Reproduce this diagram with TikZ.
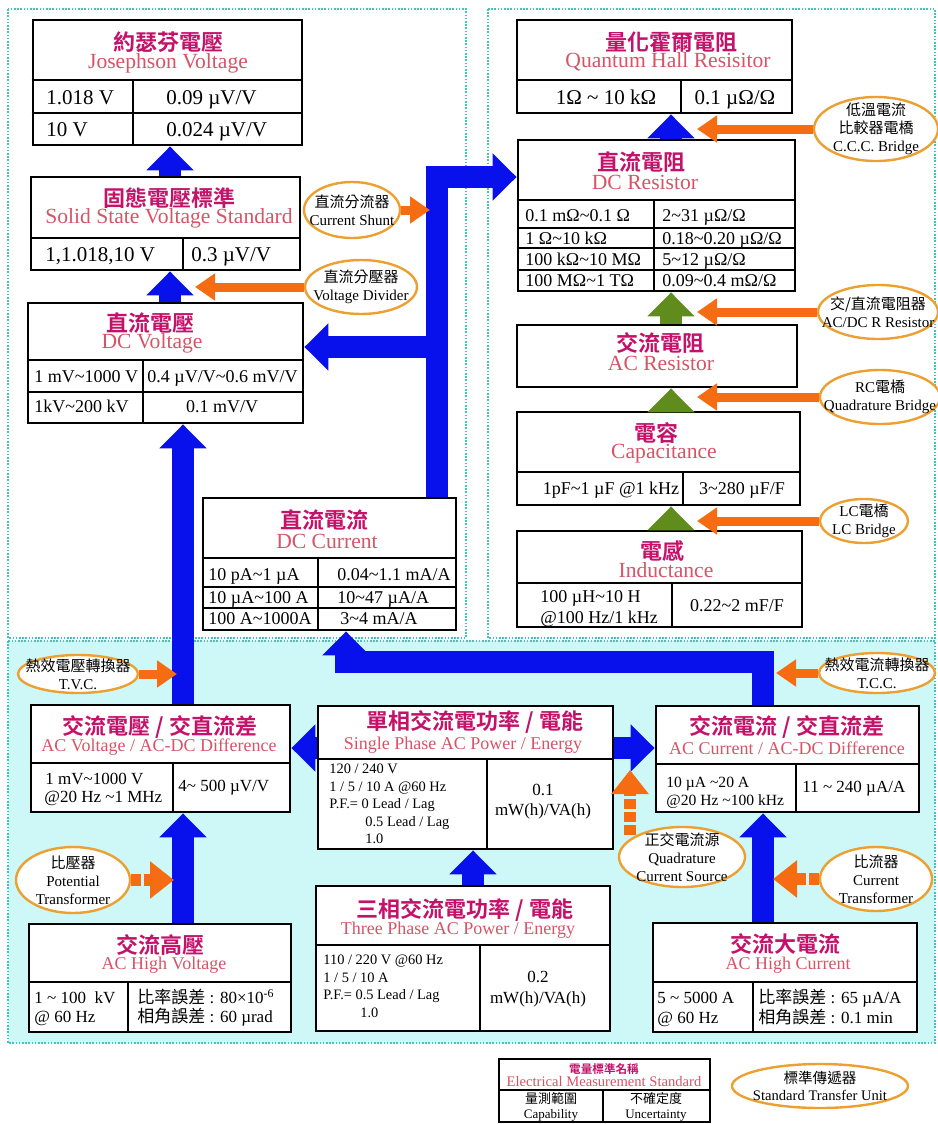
\documentclass[tikz,border=0pt]{standalone}
\usepackage{fontspec}
\setmainfont{Liberation Serif}
\newfontfamily\zhfont{Noto Sans CJK TC}
\newfontfamily\zhbfont{Noto Sans CJK TC Bold}
\usetikzlibrary{arrows.meta, shapes.geometric, fit}
\definecolor{zhred}{RGB}{196,18,106}
\definecolor{enred}{RGB}{214,84,104}
\definecolor{arrblue}{RGB}{8,16,235}
\definecolor{arrgreen}{RGB}{96,140,30}
\definecolor{arrorange}{RGB}{245,108,18}
\definecolor{ellorange}{RGB}{236,160,50}
\definecolor{zonecyan}{RGB}{206,248,248}
\definecolor{zoneline}{RGB}{64,196,188}
\newcommand{\zh}[1]{{\zhfont #1}}
\newcommand{\til}{\textasciitilde}

\begin{document}
\begin{tikzpicture}[x=0.5pt, y=-0.5pt,
    stdbox/.style={draw, line width=1.4pt, fill=white, inner sep=0pt},
    seprule/.style={line width=1.4pt},
    rowrule/.style={line width=0.8pt},
    zhtitle/.style={font=\zhbfont\fontsize{11}{13}\selectfont, text=zhred, inner sep=0pt},
    entitle/.style={font=\fontsize{10.8}{12}\selectfont, text=enred, inner sep=0pt},
    smallen/.style={entitle, font=\fontsize{9}{11}\selectfont},
    celltxt/.style={font=\fontsize{9}{11}\selectfont, inner sep=0pt, anchor=west, text height=6pt, text depth=0pt},
    bigcell/.style={celltxt, font=\fontsize{10.5}{12}\selectfont, text height=7pt},
    accell/.style={celltxt, font=\fontsize{8.5}{10}\selectfont, text height=5.6pt},
    powcell/.style={celltxt, font=\fontsize{7.2}{9}\selectfont, text height=4.8pt},
    stu/.style={ellipse, draw=ellorange, line width=1.2pt, fill=white, inner sep=0pt},
    stutxt/.style={font=\fontsize{7.5}{9}\selectfont, align=center, inner sep=0pt},
    zone/.style={draw=zoneline, line width=1pt, dash pattern=on 0.8pt off 0.8pt},
    bluearr/.style={draw=arrblue, line width=11pt, -{Triangle[width=23pt, length=12pt]}},
    greenarr/.style={bluearr, draw=arrgreen},
    orgarr/.style={draw=arrorange, line width=4.5pt, -{Triangle[width=13pt, length=10pt]}},
    orgdash/.style={draw=arrorange, line width=6pt, dash pattern=on 5pt off 1.5pt, -{Triangle[width=18pt, length=12pt]}}]

    \useasboundingbox (0,0) rectangle (937,1124);
    \draw[zone] (8,9) rectangle (466,638);
    \draw[zone] (488,9) rectangle (935,638);
    \draw[zone, fill=zonecyan] (8,641) rectangle (935,1043);

    \node[stdbox, fit={(33,20) (302,145)}] (jv) {};
    \draw[seprule] (jv.west |- 0,80) -- (jv.east |- 0,80);
    \draw[rowrule] (jv.west |- 0,113) -- (jv.east |- 0,113);
    \draw[rowrule] (133,80) -- (133,0 |- jv.south);
    \node[zhtitle] (jvzh) at (168,42) {約瑟芬電壓};
    \node[entitle] (jven) at (168,63) {Josephson Voltage};
    \node[bigcell] (jva1) at (46,97) {1.018 V};
    \node[bigcell] (jvb1) at (166,97) {0.09 µV/V};
    \node[bigcell] (jva2) at (46,129) {10 V};
    \node[bigcell] (jvb2) at (166,129) {0.024 µV/V};

    \node[stdbox, fit={(31,177) (300,270)}] (sv) {};
    \draw[seprule] (sv.west |- 0,238) -- (sv.east |- 0,238);
    \draw[rowrule] (183,238) -- (183,0 |- sv.south);
    \node[zhtitle] (svzh) at (169,198) {固態電壓標準};
    \node[entitle] (sven) at (169,218) {Solid State Voltage Standard};
    \node[bigcell] (sva1) at (45,254) {1,1.018,10 V};
    \node[bigcell] (svb1) at (191,254) {0.3 µV/V};

    \node[stdbox, fit={(28,303) (303,423)}] (dv) {};
    \draw[seprule] (dv.west |- 0,360) -- (dv.east |- 0,360);
    \draw[rowrule] (dv.west |- 0,392) -- (dv.east |- 0,392);
    \draw[rowrule] (143,360) -- (143,0 |- dv.south);
    \node[zhtitle] (dvzh) at (150,323) {直流電壓};
    \node[entitle] (dven) at (152,343) {DC Voltage};
    \node[celltxt] (dva1) at (34,376) {1 mV\til1000 V};
    \node[celltxt] (dvb1) at (147,376) {0.4 µV/V\til0.6 mV/V};
    \node[celltxt] (dva2) at (34,406) {1kV\til200 kV};
    \node[celltxt, anchor=center] (dvb2) at (222,406) {0.1 mV/V};

    \node[stdbox, fit={(203,498) (456,630)}] (di) {};
    \draw[seprule] (di.west |- 0,558) -- (di.east |- 0,558);
    \draw[rowrule] (di.west |- 0,587) -- (di.east |- 0,587);
    \draw[rowrule] (di.west |- 0,608) -- (di.east |- 0,608);
    \draw[rowrule] (318,558) -- (318,0 |- di.south);
    \node[zhtitle] (dizh) at (324,520) {直流電流};
    \node[entitle] (dien) at (327,541) {DC Current};
    \node[celltxt] (dia1) at (208,574) {10 pA\til1 µA};
    \node[celltxt] (dib1) at (337,574) {0.04\til1.1 mA/A};
    \node[celltxt] (dia2) at (208,597) {10 µA\til100 A};
    \node[celltxt] (dib2) at (337,597) {10\til47 µA/A};
    \node[celltxt] (dia3) at (208,618) {100 A\til1000A};
    \node[celltxt] (dib3) at (340,618) {3\til4 mA/A};

    \node[stdbox, fit={(517,20) (792,113)}] (qhr) {};
    \draw[seprule] (qhr.west |- 0,80) -- (qhr.east |- 0,80);
    \draw[rowrule] (681,80) -- (681,0 |- qhr.south);
    \node[zhtitle] (qhrzh) at (671,42) {量化霍爾電阻};
    \node[entitle] (qhren) at (668,62) {Quantum Hall Resisitor};
    \node[bigcell, anchor=center] (qhra1) at (606,97) {1Ω \til{} 10 kΩ};
    \node[bigcell, anchor=center] (qhrb1) at (735,97) {0.1 µΩ/Ω};

    \node[stdbox, fit={(518,140) (795,291)}] (dr) {};
    \draw[seprule] (dr.west |- 0,200) -- (dr.east |- 0,200);
    \draw[rowrule] (dr.west |- 0,228) -- (dr.east |- 0,228);
    \draw[rowrule] (dr.west |- 0,248) -- (dr.east |- 0,248);
    \draw[rowrule] (dr.west |- 0,270) -- (dr.east |- 0,270);
    \draw[rowrule] (654,200) -- (654,0 |- dr.south);
    \node[zhtitle] (drzh) at (641,162) {直流電阻};
    \node[entitle] (dren) at (645,182) {DC Resistor};
    \node[celltxt] (dra1) at (525,215) {0.1 mΩ\til0.1 Ω};
    \node[celltxt] (drb1) at (662,215) {2\til31 µΩ/Ω};
    \node[celltxt] (dra2) at (525,238) {1 Ω\til10 kΩ};
    \node[celltxt] (drb2) at (662,238) {0.18\til0.20 µΩ/Ω};
    \node[celltxt] (dra3) at (525,259) {100 kΩ\til10 MΩ};
    \node[celltxt] (drb3) at (662,259) {5\til12 µΩ/Ω};
    \node[celltxt] (dra4) at (525,280) {100 MΩ\til1 TΩ};
    \node[celltxt] (drb4) at (662,280) {0.09\til0.4 mΩ/Ω};

    \node[stdbox, fit={(517,325) (797,387)}] (ar) {};
    \node[zhtitle] (arzh) at (660,343) {交流電阻};
    \node[entitle] (aren) at (661,363) {AC Resistor};

    \node[stdbox, fit={(517,412) (800,505)}] (cap) {};
    \draw[seprule] (cap.west |- 0,472) -- (cap.east |- 0,472);
    \draw[rowrule] (683,472) -- (683,0 |- cap.south);
    \node[zhtitle] (capzh) at (656,433) {電容};
    \node[entitle] (capen) at (664,454) {Capacitance};
    \node[celltxt, anchor=center] (capa1) at (611,488) {1pF\til1 µF @1 kHz};
    \node[celltxt, anchor=center] (capb1) at (742,488) {3\til280 µF/F};

    \node[stdbox, fit={(517,531) (802,627)}] (ind) {};
    \draw[seprule] (ind.west |- 0,583) -- (ind.east |- 0,583);
    \draw[rowrule] (672,583) -- (672,0 |- ind.south);
    \node[zhtitle] (indzh) at (662,551) {電感};
    \node[entitle] (inden) at (666,570) {Inductance};
    \node[celltxt] (inda1) at (540,596) {100 µH\til10 H};
    \node[celltxt] (inda2) at (540,617) {@100 Hz/1 kHz};
    \node[celltxt, anchor=center] (indb1) at (737,605) {0.22\til2 mF/F};

    \node[stdbox, fit={(31,705) (290,812)}] (acv) {};
    \draw[seprule] (acv.west |- 0,763) -- (acv.east |- 0,763);
    \draw[rowrule] (173,763) -- (173,0 |- acv.south);
    \node[zhtitle] (acvzh) at (160,727) {交流電壓 / 交直流差};
    \node[smallen] (acven) at (159,747) {AC Voltage / AC-DC Difference};
    \node[accell] (acva1) at (45,779) {1 mV\til1000 V};
    \node[accell] (acva2) at (44,797) {@20 Hz \til1 MHz};
    \node[accell] (acvb1) at (178,786) {4\til{} 500 µV/V};

    \node[stdbox, fit={(318,706) (613,849)}] (sp) {};
    \draw[seprule] (sp.west |- 0,759) -- (sp.east |- 0,759);
    \draw[rowrule] (487,759) -- (487,0 |- sp.south);
    \node[zhtitle] (spzh) at (475,722) {單相交流電功率 / 電能};
    \node[smallen] (spen) at (463,745) {Single Phase AC Power / Energy};
    \node[powcell] (spa1) at (329,769) {120 / 240 V};
    \node[powcell] (spa2) at (329,787) {1 / 5 / 10 A @60 Hz};
    \node[powcell] (spa3) at (329,804) {P.F.= 0 Lead / Lag};
    \node[powcell] (spa4) at (365,822) {0.5 Lead / Lag};
    \node[powcell] (spa5) at (365,839) {1.0};
    \node[accell, anchor=center] (spb1) at (543,790) {0.1};
    \node[accell, anchor=center] (spb2) at (543,810) {mW(h)/VA(h)};

    \node[stdbox, fit={(656,706) (919,812)}] (aci) {};
    \draw[seprule] (aci.west |- 0,764) -- (aci.east |- 0,764);
    \draw[rowrule] (796,764) -- (796,0 |- aci.south);
    \node[zhtitle] (acizh) at (787,727) {交流電流 / 交直流差};
    \node[smallen] (acien) at (787,748) {AC Current / AC-DC Difference};
    \node[accell, font=\fontsize{7.8}{9}\selectfont] (acia1) at (666,782) {10 µA \til20 A};
    \node[accell, font=\fontsize{7.8}{9}\selectfont] (acia2) at (666,800) {@20 Hz \til100 kHz};
    \node[accell] (acib1) at (802,787) {11 \til{} 240 µA/A};

    \node[stdbox, fit={(29,924) (291,1032)}] (achv) {};
    \draw[seprule] (achv.west |- 0,982) -- (achv.east |- 0,982);
    \draw[rowrule] (128,982) -- (128,0 |- achv.south);
    \node[zhtitle] (achvzh) at (160,945) {交流高壓};
    \node[smallen] (achven) at (164,965) {AC High Voltage};
    \node[accell] (achva1) at (34,998) {1 \til{} 100\ \ kV};
    \node[accell] (achva2) at (34,1017) {@ 60 Hz};
    \node[accell] (achvb1) at (137,998) {\zh{比率誤差} : 80×10\textsuperscript{-6}};
    \node[accell] (achvb2) at (137,1017) {\zh{相角誤差} : 60 µrad};

    \node[stdbox, fit={(316,886) (610,1031)}] (tp) {};
    \draw[seprule] (tp.west |- 0,945) -- (tp.east |- 0,945);
    \draw[rowrule] (480,945) -- (480,0 |- tp.south);
    \node[zhtitle] (tpzh) at (465,910) {三相交流電功率 / 電能};
    \node[smallen] (tpen) at (458,930) {Three Phase AC Power / Energy};
    \node[powcell] (tpa1) at (323,960) {110 / 220 V @60 Hz};
    \node[powcell] (tpa2) at (323,978) {1 / 5 / 10 A};
    \node[powcell] (tpa3) at (323,995) {P.F.= 0.5 Lead / Lag};
    \node[powcell] (tpa4) at (360,1013) {1.0};
    \node[accell, anchor=center] (tpb1) at (538,977) {0.2};
    \node[accell, anchor=center] (tpb2) at (538,998) {mW(h)/VA(h)};

    \node[stdbox, fit={(653,923) (917,1032)}] (achi) {};
    \draw[seprule] (achi.west |- 0,982) -- (achi.east |- 0,982);
    \draw[rowrule] (753,982) -- (753,0 |- achi.south);
    \node[zhtitle] (achizh) at (785,944) {交流大電流};
    \node[smallen] (achien) at (788,965) {AC High Current};
    \node[accell] (achia1) at (657,998) {5 \til{} 5000 A};
    \node[accell] (achia2) at (657,1018) {@ 60 Hz};
    \node[accell] (achib1) at (758,998) {\zh{比率誤差} : 65 µA/A};
    \node[accell] (achib2) at (758,1018) {\zh{相角誤差} : 0.1 min};

    \node[stdbox, line width=1pt, fit={(499,1059) (710,1122)}] (leg) {};
    \draw[seprule] (leg.west |- 0,1090) -- (leg.east |- 0,1090);
    \draw[rowrule] (603,1090) -- (603,0 |- leg.south);
    \node[zhtitle, font=\zhbfont\fontsize{5.8}{7}\selectfont] (legzh) at (604,1069) {電量標準名稱};
    \node[entitle, font=\fontsize{7.3}{8}\selectfont] (legen) at (604,1081) {Electrical Measurement Standard};
    \node[stutxt, font=\fontsize{6.5}{7.2}\selectfont] (lega) at (551,1107) {\zh{量測範圍}\\Capability};
    \node[stutxt, font=\fontsize{6.5}{7.2}\selectfont] (legb) at (656,1107) {\zh{不確定度}\\Uncertainty};

    \draw[bluearr] (170,0 |- sv.north) -- (170,0 |- jv.south);
    \draw[bluearr] (170,0 |- dv.north) -- (170,0 |- sv.south);
    \draw[bluearr] (183,0 |- acv.north) -- (183,0 |- dv.south);
    \draw[bluearr] (183,0 |- achv.north) -- (183,0 |- acv.south);
    \draw[bluearr] (437,0 |- di.north) -- (437,177) -- (dr.west |- 0,177);
    \draw[bluearr] (437,347) -- (dv.east |- 0,347);
    \draw[bluearr] (763,0 |- aci.north) -- (763,662) -- (346,662) -- (346,0 |- di.south);
    \draw[bluearr] (sp.west |- 0,748) -- (acv.east |- 0,748);
    \draw[bluearr] (sp.east |- 0,748) -- (aci.west |- 0,748);
    \draw[bluearr] (473,0 |- tp.north) -- (473,0 |- sp.south);
    \draw[bluearr] (763,0 |- achi.north) -- (763,0 |- aci.south);
    \draw[bluearr] (671,0 |- dr.north) -- (671,0 |- qhr.south);
    \draw[greenarr] (671,0 |- ar.north) -- (671,0 |- dr.south);
    \draw[greenarr] (671,0 |- cap.north) -- (671,0 |- ar.south);
    \draw[greenarr] (671,0 |- ind.north) -- (671,0 |- cap.south);

    \node[stu, minimum width=48pt, minimum height=28pt] (cs) at (352,210) {};
    \node[stutxt] (cstxt) at (cs) {\zh{直流分流器}\\Current Shunt};
    \node[stu, minimum width=56pt, minimum height=27pt] (vd) at (361,287) {};
    \node[stutxt] (vdtxt) at (vd) {\zh{直流分壓器}\\Voltage Divider};
    \node[stu, minimum width=62pt, minimum height=32pt] (ccc) at (876,129) {};
    \node[stutxt] (ccctxt) at (ccc) {\zh{低溫電流}\\\zh{比較器電橋}\\C.C.C. Bridge};
    \node[stu, minimum width=60pt, minimum height=27pt] (acdc) at (878,312) {};
    \node[stutxt] (acdctxt) at (acdc) {\zh{交/直流電阻器}\\AC/DC R Resistor};
    \node[stu, minimum width=60pt, minimum height=27pt] (rc) at (880,397) {};
    \node[stutxt] (rctxt) at (rc) {RC\zh{電橋}\\Quadrature Bridge};
    \node[stu, minimum width=44pt, minimum height=22pt] (lc) at (864,521) {};
    \node[stutxt] (lctxt) at (lc) {LC\zh{電橋}\\LC Bridge};
    \node[stu, minimum width=60pt, minimum height=19pt] (tvc) at (78,674) {};
    \node[stutxt] (tvctxt) at (tvc) {\zh{熱效電壓轉換器}\\T.V.C.};
    \node[stu, minimum width=57pt, minimum height=33pt] (pt) at (73,880) {};
    \node[stutxt] (pttxt) at (pt) {\zh{比壓器}\\Potential\\Transformer};
    \node[stu, minimum width=58pt, minimum height=20pt] (tcc) at (877,673) {};
    \node[stutxt] (tcctxt) at (tcc) {\zh{熱效電流轉換器}\\T.C.C.};
    \node[stu, minimum width=63pt, minimum height=30pt] (qcs) at (682,857) {};
    \node[stutxt] (qcstxt) at (qcs) {\zh{正交電流源}\\Quadrature\\Current Source};
    \node[stu, minimum width=56pt, minimum height=32pt] (ct) at (876,879) {};
    \node[stutxt] (cttxt) at (ct) {\zh{比流器}\\Current\\Transformer};
    \node[stu, minimum width=88pt, minimum height=22pt] (stuleg) at (820,1086) {};
    \node[stutxt, font=\fontsize{7.3}{8.6}\selectfont] (stulegtxt) at (stuleg) {\zh{標準傳遞器}\\Standard Transfer Unit};

    \coordinate (qtip) at (630,770);
    \draw[orgarr] (vd.west) -- (vd.west -| 195,0);
    \draw[orgarr] (cs.east) -- (cs.east -| 430,0);
    \draw[orgarr] (ccc.west) -- (ccc.west -| 697,0);
    \draw[orgarr] (acdc.west) -- (acdc.west -| 697,0);
    \draw[orgarr] (rc.west) -- (rc.west -| 697,0);
    \draw[orgarr] (lc.west) -- (lc.west -| 697,0);
    \draw[orgarr] (tvc.east) -- (tvc.east -| 177,0);
    \draw[orgarr] (tcc.west) -- (tcc.west -| 776,0);
    \draw[orgdash] (pt.east) -- (pt.east -| 174,0);
    \draw[orgdash] (ct.west) -- (ct.west -| 773,0);
    \draw[orgdash] (qtip |- qcs.north west) -- (qtip);
\end{tikzpicture}
\end{document}
